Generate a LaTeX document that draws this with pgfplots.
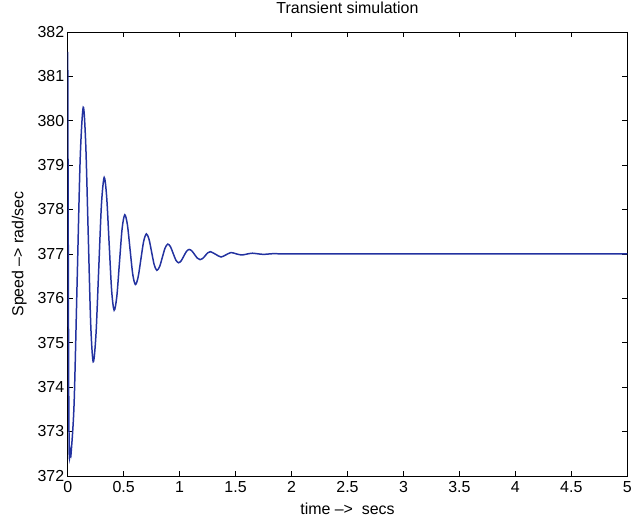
\documentclass[border=0pt]{standalone}
\usepackage{fontspec}
\setmainfont{Liberation Sans}
\usepackage{pgfplots}
\pgfplotsset{compat=1.18}
\definecolor{speedblue}{RGB}{35,50,160}
\begin{document}
\begin{tikzpicture}
\begin{axis}[
  scale only axis,
  width=562pt, height=446pt,
  xmin=0, xmax=5, ymin=372, ymax=382,
  xtick={0,0.5,...,5}, ytick={372,373,...,382},
  tick align=inside,
  major tick length=5pt,
  axis line style={line width=0.7pt},
  every tick/.style={black, line width=0.7pt},
  /pgf/number format/assume math mode=true,
  tick label style={font=\fontsize{16}{19}\selectfont},
  xticklabel style={/pgf/number format/fixed, yshift=-2pt},
  yticklabel style={/pgf/number format/fixed, /pgf/number format/1000 sep={}},
  title={Transient simulation},
  title style={font=\fontsize{16}{19}\selectfont, at={(axis description cs:0.5,1)}, anchor=base, yshift=12pt, inner sep=0pt},
  xlabel={time \textendash>\ \ secs},
  ylabel={Speed \textendash> rad/sec},
  every axis x label/.style={at={(axis description cs:0.5,0)}, anchor=base, yshift=-39pt, inner sep=0pt, font=\fontsize{16}{19}\selectfont},
  every axis y label/.style={at={(axis description cs:-0.073,0.5)}, rotate=90, anchor=south, inner sep=0pt, font=\fontsize{16}{19}\selectfont},
]
\addplot[speedblue, line width=1.5pt, smooth, tension=0.5] coordinates {
(0,381.55) (0.004,378.0) (0.009,374.0) (0.014,372.45) (0.019,372.62) (0.024,372.5) (0.03,372.5)
(0.0573,373.64) (0.0845,376.4) (0.1118,379.16) (0.139,380.30)
(0.1613,379.46) (0.1835,377.435) (0.2058,375.41) (0.228,374.57)
(0.2525,375.18) (0.277,376.645) (0.3015,378.11) (0.326,378.72)
(0.3483,378.28) (0.3705,377.225) (0.3928,376.17) (0.415,375.73)
(0.4388,376.04) (0.4625,376.805) (0.4863,377.57) (0.510,377.88)
(0.5338,377.65) (0.5575,377.095) (0.5813,376.54) (0.605,376.31)
(0.6295,376.48) (0.654,376.88) (0.6785,377.28) (0.703,377.45)
(0.7265,377.33) (0.75,377.04) (0.7735,376.75) (0.797,376.63)
(0.8215,376.716) (0.846,376.925) (0.8705,377.134) (0.895,377.22)
(0.9188,377.159) (0.9425,377.01) (0.9663,376.861) (0.990,376.80)
(1.0138,376.844) (1.0375,376.95) (1.0613,377.056) (1.085,377.10)
(1.1095,377.066) (1.134,376.985) (1.1585,376.904) (1.183,376.87)
(1.206,376.896) (1.229,376.96) (1.252,377.024) (1.275,377.05)
(1.3225,376.99) (1.370,376.93) (1.415,376.98) (1.46,377.03) (1.507,377.0) (1.555,376.975)
(1.60,376.995) (1.65,377.015) (1.745,376.99) (1.84,377.005) (1.95,377.0)
(2.5,377.0) (3.0,377.0) (3.5,377.0) (4.0,377.0) (4.5,377.0) (5.0,377.0)
};
\end{axis}
\path ([xshift=-68pt,yshift=-46pt]current axis.south west) rectangle ([xshift=5pt,yshift=32pt]current axis.north east);
\end{tikzpicture}
\end{document}
